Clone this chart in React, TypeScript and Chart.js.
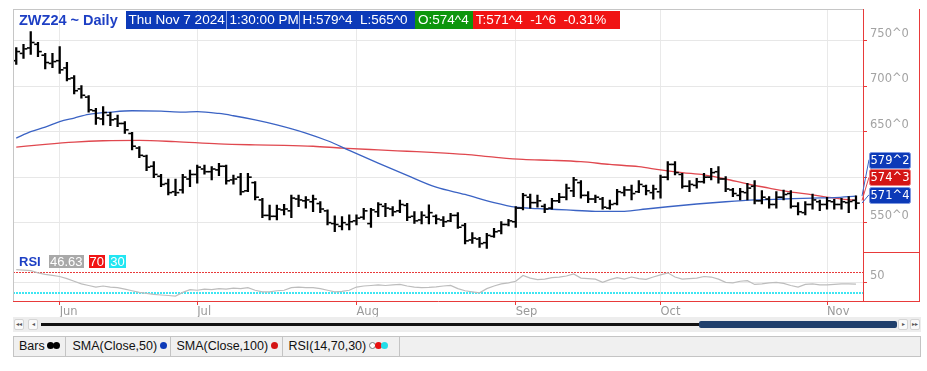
import React, { useEffect, useRef } from 'react';
import { Chart, registerables } from 'chart.js';

Chart.register(...registerables);

// ---------- data ----------
const highs = [
  742.3, 746.0, 759.9, 748.2, 736.1, 736.1, 743.4, 726.2, 711.6, 700.6,
  689.6, 675.7, 677.5, 671.3, 668.3, 661.0, 649.3, 633.5, 624.4, 617.1,
  603.2, 598.0, 598.0, 603.2, 607.9, 613.4, 613.4, 611.6, 615.2, 613.4,
  602.4, 604.3, 604.3, 595.1, 576.8, 569.4, 569.4, 570.2, 580.4, 580.4,
  578.6, 580.4, 573.1, 564.0, 557.4, 556.6, 558.5, 558.5, 565.8, 565.8,
  572.0, 571.3, 567.6, 574.9, 571.3, 562.1, 562.1, 569.5, 558.5, 556.6,
  560.3, 561.0, 549.3, 539.0, 533.9, 538.3, 543.8, 551.1, 553.7, 567.6,
  582.3, 581.5, 580.4, 570.5, 576.8, 582.3, 592.5, 599.9, 596.2, 584.1,
  580.4, 577.9, 574.9, 586.7, 589.6, 591.4, 596.2, 591.4, 591.4, 602.4,
  617.1, 617.1, 604.3, 596.2, 598.8, 604.3, 609.7, 611.6, 600.6, 587.8,
  587.8, 593.3, 596.2, 585.2, 578.6, 584.1, 585.9, 585.2, 572.0, 573.1,
  581.5, 574.9, 577.9, 575.7, 576.8, 578.6, 579.5,
];
const lows = [
  724.0, 730.6, 735.0, 732.5, 718.9, 720.4, 714.1, 705.7, 691.4, 686.7,
  671.3, 658.1, 657.4, 656.6, 655.5, 648.2, 629.9, 621.5, 607.2, 599.5,
  589.6, 580.4, 579.7, 582.3, 589.6, 593.3, 603.2, 597.0, 601.7, 592.2,
  592.2, 580.4, 584.1, 574.9, 555.5, 553.0, 553.0, 558.5, 555.5, 567.6,
  565.8, 562.1, 561.0, 547.5, 540.1, 542.0, 542.0, 547.5, 553.7, 544.9,
  556.6, 556.6, 557.4, 561.0, 552.2, 549.3, 548.6, 548.6, 548.6, 545.6,
  551.1, 543.8, 526.6, 527.3, 522.9, 521.8, 533.9, 537.6, 546.4, 544.9,
  564.0, 565.8, 566.9, 561.0, 564.7, 572.0, 574.9, 578.6, 576.8, 572.0,
  572.0, 564.7, 564.7, 569.5, 579.3, 574.9, 583.0, 580.4, 575.7, 576.8,
  596.9, 602.4, 587.8, 584.1, 587.8, 593.3, 596.9, 593.3, 584.1, 578.6,
  574.9, 574.9, 570.5, 570.5, 565.8, 565.8, 574.9, 565.8, 558.5, 558.5,
  564.7, 563.2, 564.7, 564.7, 564.7, 561.0, 565.0,
];
const opens = [
  728, 736, 742, 746, 734, 725, 728, 720, 709, 697,
  688, 673, 664, 668, 664, 659, 648, 632, 623, 612,
  601, 593, 584, 586, 598, 603, 609, 606, 608, 612,
  597, 600, 585, 594, 575, 558, 557, 564, 563, 576,
  574, 573, 571, 563, 549, 546, 548, 552, 556, 549,
  562, 568, 565, 563, 569, 557, 553, 556, 557, 553,
  552, 558, 547, 531, 532, 528, 535, 541, 548, 551,
  566, 578, 572, 568, 566, 574, 578, 585, 594, 580,
  576, 576, 566, 571, 583, 586, 584, 590, 583, 584,
  600, 614, 603, 590, 591, 595, 600, 606, 598, 586,
  580, 583, 590, 574, 576, 570, 578, 582, 568, 561,
  570, 573, 570, 573, 570, 572, 574.5,
];
const closes = [
  738, 741, 748, 738, 726, 727, 718, 708, 695, 690,
  674, 665, 671, 663, 659, 652, 634, 624, 611, 603,
  592, 583, 583, 600, 603, 611, 606, 609, 612, 596,
  598, 584, 600, 578, 558, 557, 565, 565, 577, 575,
  575, 576, 565, 550, 548, 550, 551, 555, 563, 564,
  570, 566, 562, 570, 556, 552, 558, 561, 554, 551,
  558, 545, 530, 533, 527, 536, 540, 548, 552, 566,
  580, 572, 574, 565, 574, 578, 588, 597, 580, 576,
  578, 567, 570, 584, 586, 582, 592, 585, 587, 600,
  614, 605, 590, 592, 595, 600, 605, 598, 587, 582,
  584, 588, 574, 578, 570, 578, 581, 568, 562, 570,
  575, 570, 574, 570, 573, 573.25, 571.5,
];

// SMA lines: (bar index, value) pairs
const sma50Idx = [0, 2, 4, 6, 8, 10, 13, 16, 20, 23, 25, 28, 30, 33, 36, 40, 43, 46, 50, 54, 58, 62, 66, 69, 72, 76, 80, 84, 87, 90, 94, 98, 102, 106, 110, 113, 116];
const sma50 = [643, 650, 655, 661, 665, 669, 671.5, 673, 672.5, 671.5, 672, 670, 667.5, 663, 657.5, 648.5, 640, 629.5, 615.5, 602, 589, 581, 572, 567, 565.5, 564, 562.5, 562.5, 565, 567.5, 570.5, 573, 575, 576, 577, 577.5, 579.25];
const sma100Idx = [0, 4, 8, 12, 17, 22, 28, 33, 37, 41, 45, 50, 54, 58, 62, 66, 70, 74, 78, 82, 86, 89, 92, 95, 98, 101, 104, 106, 110, 113, 116];
const sma100 = [633, 636, 638.5, 640, 640.5, 639, 636.5, 635.5, 635, 634, 632, 630, 628.5, 627, 625, 622, 619.5, 618.5, 617, 614, 611.5, 608, 605, 602.5, 598, 592.5, 588, 585, 580.5, 577, 574.375];

const rsi = [
  74, 73, 72, 68, 65, 63, 61, 57, 52, 47,
  44, 41, 43, 41, 40, 37, 34, 31, 29, 27,
  26, 25, 24, 31, 36, 35, 37, 36, 38, 37,
  39, 38, 40, 35, 32, 32, 34, 35, 40, 41,
  40, 40, 38, 35, 32, 33, 35, 41, 43, 44,
  45, 44, 45, 46, 43, 41, 40, 40.5, 41.5, 43,
  44, 38, 34, 32, 30, 38, 43, 47, 49, 52,
  63, 58, 55, 56, 59, 60, 62, 66, 58, 57,
  56, 50, 55, 59, 56, 60, 57, 55.5, 60, 64,
  68, 60, 56, 57, 58, 61, 60, 56, 50, 49,
  52, 53, 46, 47, 49, 50, 48, 44, 41, 46,
  47, 45, 45, 46, 47, 47, 46.63,
];
const rsiLevels = [70, 30];

const priceTicks = [550, 600, 650, 700, 750];
const rsiTicks = [50];
const monthLabels = ['Jun', 'Jul', 'Aug', 'Sep', 'Oct', 'Nov'];
const monthStart = [6, 25, 47, 69, 89, 112];

const symbolText = 'ZWZ24 ~ Daily';
const dateText = 'Thu Nov 7 2024';
const timeText = '1:30:00 PM';

// ---------- helpers ----------
const fmt8 = (v: number) => {
  const s = v < 0 ? '-' : '';
  const a = Math.abs(v);
  let n = Math.floor(a + 1e-9);
  let e = Math.round((a - n) * 8);
  if (e === 8) { n += 1; e = 0; }
  return `${s}${n}^${e}`;
};

const BLUE = '#3b63c4';
const RED = '#e0484f';
const AXRED = '#e83a3a';
const AXFONT = 'DejaVu Sans';

const panelPlugin = {
  id: 'panels',
  beforeDatasetsDraw(chart: any) {
    const { ctx, chartArea: ca } = chart;
    const yR = chart.scales.yRSI;
    ctx.save();
    ctx.beginPath();
    ctx.rect(ca.left, ca.top, ca.right - ca.left, ca.bottom - ca.top);
    ctx.clip();
    const y70 = Math.round(yR.getPixelForValue(rsiLevels[0])) + 0.5;
    ctx.setLineDash([2, 1]);
    ctx.lineWidth = 1;
    ctx.strokeStyle = AXRED;
    ctx.beginPath(); ctx.moveTo(ca.left, y70); ctx.lineTo(ca.right, y70); ctx.stroke();
    const y30 = Math.round(yR.getPixelForValue(rsiLevels[1]));
    ctx.lineWidth = 2;
    ctx.strokeStyle = '#3fe6f2';
    ctx.beginPath(); ctx.moveTo(ca.left, y30); ctx.lineTo(ca.right, y30); ctx.stroke();
    ctx.restore();
  },
  afterDatasetsDraw(chart: any) {
    const { ctx, chartArea: ca } = chart;
    const meta = chart.getDatasetMeta(0);
    const y = chart.scales.y;
    ctx.save();
    ctx.beginPath();
    ctx.rect(ca.left, ca.top, ca.right - ca.left, ca.bottom - ca.top);
    ctx.clip();
    ctx.fillStyle = '#000';
    meta.data.forEach((el: any, i: number) => {
      const x = el.x;
      const yo = y.getPixelForValue(opens[i]);
      const yc = y.getPixelForValue(closes[i]);
      ctx.fillRect(x - 3.8, yo - 0.8, 3, 1.6);
      ctx.fillRect(x + 0.8, yc - 0.8, 3, 1.6);
    });
    ctx.restore();
  },
  afterDraw(chart: any) {
    const { ctx, chartArea: ca } = chart;
    const yR = chart.scales.yRSI;
    const y = chart.scales.y;
    const right = ca.right + 57;
    ctx.save();
    ctx.lineWidth = 1;
    ctx.strokeStyle = '#c6c6c6';
    ctx.beginPath(); ctx.moveTo(ca.left + 0.5, ca.top); ctx.lineTo(ca.left + 0.5, ca.bottom); ctx.stroke();
    ctx.beginPath(); ctx.moveTo(ca.left, ca.top + 0.5); ctx.lineTo(ca.right, ca.top + 0.5); ctx.stroke();
    ctx.strokeStyle = AXRED;
    ctx.beginPath(); ctx.moveTo(right - 0.5, ca.top); ctx.lineTo(right - 0.5, ca.bottom); ctx.stroke();
    const sep = Math.round(yR.top) + 0.5;
    ctx.beginPath(); ctx.moveTo(ca.right, sep); ctx.lineTo(right, sep); ctx.stroke();
    const bot = Math.round(ca.bottom) + 0.5;
    ctx.beginPath(); ctx.moveTo(ca.right, bot); ctx.lineTo(right, bot); ctx.stroke();

    // last-value boxes
    const items = [
      { v: sma50[sma50.length - 1], bg: '#0c3ab8', bd: '#7e98e0', ln: BLUE },
      { v: sma100[sma100.length - 1], bg: '#d41515', bd: '#f08080', ln: RED },
      { v: closes[closes.length - 1], bg: '#0c3ab8', bd: '#7e98e0', ln: BLUE },
    ].sort((a, b) => b.v - a.v);
    const centers: number[] = [];
    let cy = y.getPixelForValue(items[items.length - 1].v) - 8.4;
    for (let k = items.length - 1; k >= 0; k--) { centers[k] = cy; cy -= 17.5; }
    const bx = ca.right + 6, bw = 41, bh = 16;
    items.forEach((it, k) => {
      const vy = y.getPixelForValue(it.v);
      ctx.strokeStyle = it.ln;
      ctx.beginPath(); ctx.moveTo(ca.right - 1, vy); ctx.lineTo(bx, centers[k]); ctx.stroke();
    });
    items.forEach((it, k) => {
      const top = Math.round(centers[k] - bh / 2);
      ctx.fillStyle = it.bg;
      ctx.strokeStyle = it.bd;
      ctx.beginPath();
      if (ctx.roundRect) ctx.roundRect(bx + 0.5, top + 0.5, bw, bh, 2); else ctx.rect(bx + 0.5, top + 0.5, bw, bh);
      ctx.fill();
      ctx.stroke();
      ctx.fillStyle = '#fff';
      ctx.font = `11.5px "${AXFONT}"`;
      ctx.textAlign = 'center';
      ctx.textBaseline = 'middle';
      ctx.fillText(fmt8(it.v), bx + bw / 2 + 0.5, top + bh / 2 + 1);
    });
    ctx.restore();
  },
};

const Dot = ({ c, hollow }: { c: string; hollow?: boolean }) => (
  <span style={{
    display: 'inline-block', width: 7, height: 7, borderRadius: '50%',
    background: hollow ? '#fff' : c, border: hollow ? '1px solid #777' : 'none',
    boxSizing: 'border-box', marginLeft: -1, verticalAlign: 'middle', position: 'relative', top: -1,
  }} />
);

export default function App() {
  const ref = useRef<HTMLCanvasElement>(null);

  useEffect(() => {
    if (!ref.current) return;
    Chart.defaults.font.family = AXFONT;
    const chart = new Chart(ref.current, {
      type: 'line',
      data: {
        datasets: [
          {
            type: 'bar',
            data: highs.map((h, i) => ({ x: i, y: [lows[i], h] })),
            backgroundColor: '#000',
            borderWidth: 0,
            barThickness: 1.6,
            grouped: false,
            yAxisID: 'y',
            order: 0,
          } as any,
          {
            type: 'line',
            data: sma50Idx.map((x, k) => ({ x, y: sma50[k] })),
            borderColor: BLUE,
            borderWidth: 1.3,
            pointRadius: 0,
            cubicInterpolationMode: 'monotone',
            yAxisID: 'y',
            order: 1,
          },
          {
            type: 'line',
            data: sma100Idx.map((x, k) => ({ x, y: sma100[k] })),
            borderColor: RED,
            borderWidth: 1.3,
            pointRadius: 0,
            cubicInterpolationMode: 'monotone',
            yAxisID: 'y',
            order: 2,
          },
          {
            type: 'line',
            data: rsi.map((v, i) => ({ x: i, y: v })),
            borderColor: '#bdbdbd',
            borderWidth: 1.2,
            pointRadius: 0,
            tension: 0,
            yAxisID: 'yRSI',
            order: 3,
          },
        ],
      },
      options: {
        responsive: false,
        animation: false,
        devicePixelRatio: 1,
        layout: { padding: { left: 13, top: 9, right: 7, bottom: 48 } },
        plugins: { legend: { display: false }, tooltip: { enabled: false } },
        scales: {
          x: {
            type: 'linear',
            min: -0.45,
            max: 116.97,
            offset: false,
            position: 'bottom',
            afterBuildTicks: (s: any) => { s.ticks = monthStart.map((v) => ({ value: v })); },
            afterFit: (s: any) => { s.height = 22; s.paddingLeft = 0; s.paddingRight = 0; },
            ticks: {
              autoSkip: false,
              maxRotation: 0,
              align: 'start',
              padding: 0,
              color: '#9a9a9a',
              font: { family: AXFONT, size: 11.5 },
              callback: (v: any) => { const k = monthStart.indexOf(Number(v)); return k >= 0 ? monthLabels[k] : ''; },
            },
            grid: { color: '#e9e9e9', tickColor: AXRED, tickLength: 4, offset: false },
            border: { color: AXRED },
          },
          y: {
            type: 'linear',
            position: 'right',
            stack: 'panes',
            stackWeight: 242.7,
            min: 518.1,
            max: 784.8,
            afterBuildTicks: (s: any) => { s.ticks = priceTicks.map((v) => ({ value: v })); },
            afterFit: (s: any) => { s.width = 57; s.paddingTop = 0; s.paddingBottom = 0; },
            ticks: {
              labelOffset: -7,
              padding: 3,
              color: '#a3a3a3',
              font: { family: AXFONT, size: 11.5 },
              callback: (v: any) => `${v}^0`,
            },
            grid: { color: '#e7e7e7', tickColor: AXRED, tickLength: 4 },
            border: { color: AXRED },
          },
          yRSI: {
            type: 'linear',
            position: 'right',
            stack: 'panes',
            stackWeight: 49.3,
            min: 14.6,
            max: 108,
            afterBuildTicks: (s: any) => { s.ticks = rsiTicks.map((v) => ({ value: v })); },
            afterFit: (s: any) => { s.width = 57; s.paddingTop = 0; s.paddingBottom = 0; },
            ticks: {
              labelOffset: -6,
              padding: 3,
              color: '#a3a3a3',
              font: { family: AXFONT, size: 11.5 },
              callback: (v: any) => `${v}`,
            },
            grid: { color: '#e7e7e7', tickColor: AXRED, tickLength: 4 },
            border: { color: AXRED },
          },
        },
      } as any,
      plugins: [panelPlugin],
    });
    return () => chart.destroy();
  }, []);

  const last = closes.length - 1;
  const chg = closes[last] - closes[last - 1];
  const pct = (chg / closes[last - 1]) * 100;

  const box = (bg: string, w: number, extra: any = {}) => ({
    display: 'inline-block', width: w, height: 18, lineHeight: '18px', background: bg, color: '#fff',
    boxSizing: 'border-box' as const, paddingLeft: 3, whiteSpace: 'pre' as const, overflow: 'hidden', ...extra,
  });

  const lg = (w: number, pl: number, extra: any = {}) => ({
    width: w, boxSizing: 'border-box' as const, paddingLeft: pl, borderRight: '1px solid #c4c4c4',
    whiteSpace: 'nowrap' as const, ...extra,
  });

  const sbBtn = (left: number) => ({
    position: 'absolute' as const, left, top: 2, width: 10, height: 11, background: '#fafafa',
    border: '1px solid #d4d4d4', borderRadius: 2, boxSizing: 'border-box' as const,
    fontSize: 6, lineHeight: '9px', textAlign: 'center' as const, color: '#555',
  });

  return (
    <div style={{ position: 'absolute', left: 0, top: 0, width: 927, height: 371, background: '#fff', overflow: 'hidden', fontFamily: '"Liberation Sans", Arial, sans-serif' }}>
      <canvas ref={ref} width={927} height={371} style={{ position: 'absolute', left: 0, top: 0, width: 927, height: 371 }} />

      {/* header */}
      <div style={{ position: 'absolute', left: 14, top: 11, height: 18, fontSize: 13.5, display: 'flex' }}>
        <span style={{ width: 111.6, paddingLeft: 5, boxSizing: 'border-box', color: '#1d3fc4', fontWeight: 'bold', fontSize: 14.5, lineHeight: '18px', whiteSpace: 'nowrap' }}>{symbolText}</span>
        <span style={box('#0c3ab8', 100)}>{dateText}</span>
        <span style={box('#0c3ab8', 73, { borderLeft: '1px solid #8ea6e8' })}>{timeText}</span>
        <span style={box('#0c3ab8', 116.5, { borderLeft: '1px solid #8ea6e8' })}>{`H:${fmt8(highs[last])}  L:${fmt8(lows[last])}`}</span>
        <span style={box('#0d960d', 57.7)}>{`O:${fmt8(opens[last])}`}</span>
        <span style={box('#f01414', 147)}>{`T:${fmt8(closes[last])}  ${fmt8(chg)}  ${pct.toFixed(2)}%`}</span>
      </div>

      {/* RSI label */}
      <div style={{ position: 'absolute', left: 19, top: 255, height: 13, display: 'flex', alignItems: 'center', fontSize: 13 }}>
        <span style={{ color: '#1d3fc4', fontWeight: 'bold', width: 29.5, lineHeight: '13px' }}>RSI</span>
        <span style={{ background: '#a9a9a9', color: '#fff', width: 35.5, height: 13, lineHeight: '13px', textAlign: 'center' }}>{rsi[rsi.length - 1].toFixed(2)}</span>
        <span style={{ background: '#f01414', color: '#fff', width: 16.6, height: 13, lineHeight: '13px', textAlign: 'center', marginLeft: 4.5 }}>{rsiLevels[0]}</span>
        <span style={{ background: '#22e6f2', color: '#fff', width: 17.2, height: 13, lineHeight: '13px', textAlign: 'center', marginLeft: 3.9 }}>{rsiLevels[1]}</span>
      </div>

      {/* scroll bar */}
      <div style={{ position: 'absolute', left: 13, top: 317, width: 908, height: 15, background: '#ededed' }}>
        <div style={sbBtn(1)}>◂◂</div>
        <div style={sbBtn(15)}>◂</div>
        <div style={{ position: 'absolute', left: 28, top: 6, width: 660, height: 3, background: '#111' }} />
        <div style={{ position: 'absolute', left: 686, top: 4, width: 198, height: 7, background: '#1f3f6c', borderRadius: 2 }} />
        <div style={sbBtn(885)}>▸</div>
        <div style={sbBtn(897)}>▸▸</div>
      </div>

      {/* legend bar */}
      <div style={{ position: 'absolute', left: 13, top: 336, width: 908, height: 21, background: '#f0f0f0', border: '1px solid #c4c4c4', boxSizing: 'border-box', display: 'flex', fontSize: 12.5, lineHeight: '19px', color: '#111' }}>
        <div style={lg(52.4, 5)}>Bars <Dot c="#000" /><Dot c="#000" /></div>
        <div style={lg(105, 6)}>SMA(Close,50) <Dot c="#0c3ab8" /></div>
        <div style={lg(112, 5)}>SMA(Close,100) <Dot c="#d41515" /></div>
        <div style={lg(116.3, 5)}>RSI(14,70,30) <Dot c="#fff" hollow /><Dot c="#e81010" /><Dot c="#22dde8" /></div>
        <div style={{ flex: 1 }} />
      </div>
    </div>
  );
}
